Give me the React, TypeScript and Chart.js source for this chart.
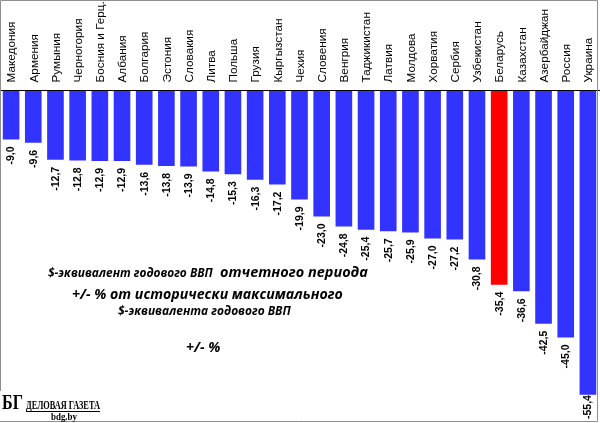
import React, { useEffect, useRef } from 'react';
import { Chart, registerables } from 'chart.js';
import type { Plugin } from 'chart.js';

Chart.register(...registerables);

const countries = [
  'Македония', 'Армения', 'Румыния', 'Черногория', 'Босния и Герц.', 'Албания',
  'Болгария', 'Эстония', 'Словакия', 'Литва', 'Польша', 'Грузия', 'Кыргызстан',
  'Чехия', 'Словения', 'Венгрия', 'Таджикистан', 'Латвия', 'Молдова', 'Хорватия',
  'Сербия', 'Узбекистан', 'Беларусь', 'Казахстан', 'Азербайджан', 'Россия', 'Украина',
];
const changePct = [
  -9.0, -9.6, -12.7, -12.8, -12.9, -12.9, -13.6, -13.8, -13.9, -14.8, -15.3, -16.3, -17.2,
  -19.9, -23.0, -24.8, -25.4, -25.7, -25.9, -27.0, -27.2, -30.8, -35.4, -36.6, -42.5, -45.0, -55.4,
];
const highlighted = 'Беларусь';

const titleLine1a = '$-эквивалент годового ВВП';
const titleLine1b = 'отчетного периода';
const titleLine2 = '+/- % от исторически максимального';
const titleLine3 = '$-эквивалента годового ВВП';
const titleLine4 = '+/- %';

const fmt = (v: number) => v.toFixed(1).replace('.', ',');

const TITLE_FONT = '"Open Sans", "Noto Sans", sans-serif';
const SANS = '"Liberation Sans", Arial, sans-serif';
const SERIF = '"Liberation Serif", "DejaVu Serif", serif';

// font size that makes `text` about `target` px long
const fitSize = (ctx: CanvasRenderingContext2D, text: string, target: number, style: string, family: string) => {
  ctx.font = `${style} 20px ${family}`;
  return (20 * target) / ctx.measureText(text).width;
};

const decorPlugin: Plugin<'bar'> = {
  id: 'decor',
  afterDatasetsDraw(chart) {
    const { ctx, chartArea } = chart;
    const meta = chart.getDatasetMeta(0);
    const xScale = chart.scales.x;
    const yScale = chart.scales.y;
    const zeroY = Math.round(yScale.getPixelForValue(0)) + 0.5;

    ctx.save();
    // axis line at zero
    ctx.strokeStyle = '#000';
    ctx.lineWidth = 1;
    ctx.beginPath();
    ctx.moveTo(0, zeroY);
    ctx.lineTo(chart.width, zeroY);
    ctx.stroke();

    ctx.fillStyle = '#000';
    ctx.textBaseline = 'middle';

    // category labels above the axis, reading upward
    const catSize = fitSize(ctx, 'Македония', 61, '', SANS);
    ctx.font = `${catSize}px ${SANS}`;
    ctx.textAlign = 'left';
    countries.forEach((c, i) => {
      const x = xScale.getPixelForTick(i);
      ctx.save();
      ctx.translate(x + 1, zeroY - 8);
      ctx.rotate(-Math.PI / 2);
      ctx.fillText(c, 0, 0);
      ctx.restore();
    });

    // value labels, rotated, just below each bar (kept inside the plot)
    const valSize = fitSize(ctx, '-12,7', 24, 'bold', SANS);
    ctx.font = `bold ${valSize}px ${SANS}`;
    ctx.textAlign = 'right';
    meta.data.forEach((el, i) => {
      const { x, y } = el.getProps(['x', 'y'], true) as { x: number; y: number };
      const text = fmt(changePct[i]);
      const w = ctx.measureText(text).width;
      const top = Math.min(y + 7, chartArea.bottom - 1 - w);
      ctx.save();
      ctx.translate(x + 0.5, top);
      ctx.rotate(-Math.PI / 2);
      ctx.fillText(text, 0, 0);
      ctx.restore();
    });
    ctx.restore();
  },
  afterDraw(chart) {
    const { ctx, width, height } = chart;
    ctx.save();

    // frame
    ctx.strokeStyle = '#8f8f8f';
    ctx.lineWidth = 1;
    ctx.beginPath();
    ctx.moveTo(0.5, 391);
    ctx.lineTo(0.5, 0.5);
    ctx.lineTo(width - 2.5, 0.5);
    ctx.lineTo(width - 2.5, height - 1.5);
    ctx.lineTo(0, height - 1.5);
    ctx.stroke();

    // title block
    ctx.fillStyle = '#000';
    ctx.textBaseline = 'middle';
    ctx.textAlign = 'left';
    const sA = fitSize(ctx, titleLine1a, 165, 'italic bold', TITLE_FONT);
    const sB = fitSize(ctx, titleLine1b, 148, 'italic bold', TITLE_FONT);
    ctx.font = `italic bold ${sA}px ${TITLE_FONT}`;
    ctx.fillText(titleLine1a, 48, 274);
    ctx.font = `italic bold ${sB}px ${TITLE_FONT}`;
    ctx.fillText(titleLine1b, 220, 273);

    const s2 = fitSize(ctx, titleLine2, 271, 'italic bold', TITLE_FONT);
    ctx.font = `italic bold ${s2}px ${TITLE_FONT}`;
    ctx.fillText(titleLine2, 72, 295);
    const s3 = fitSize(ctx, titleLine3, 173, 'italic bold', TITLE_FONT);
    ctx.font = `italic bold ${s3}px ${TITLE_FONT}`;
    ctx.fillText(titleLine3, 118, 312);
    ctx.font = `italic bold ${s2}px ${TITLE_FONT}`;
    ctx.fillText(titleLine4, 186, 348);

    // logo
    ctx.textBaseline = 'alphabetic';
    ctx.font = `bold 22px ${SERIF}`;
    ctx.fillText('БГ', 2, 409, 21);
    ctx.font = `bold 12px ${SERIF}`;
    ctx.fillText('ДЕЛОВАЯ ГАЗЕТА', 26, 409, 74);
    ctx.fillRect(26, 411, 74, 1);
    ctx.font = `bold 9.5px ${SERIF}`;
    ctx.fillText('bdg.by', 51, 419.5, 26);

    ctx.restore();
  },
};

const App: React.FC = () => {
  const canvasRef = useRef<HTMLCanvasElement>(null);
  const chartRef = useRef<Chart | null>(null);

  useEffect(() => {
    if (!canvasRef.current) return;
    const ctx = canvasRef.current.getContext('2d');
    if (!ctx) return;

    if (chartRef.current) chartRef.current.destroy();

    const colors = countries.map((c) => (c === highlighted ? '#ff0000' : '#3333ff'));

    chartRef.current = new Chart(ctx, {
      type: 'bar',
      data: {
        labels: countries,
        datasets: [
          {
            data: changePct,
            backgroundColor: colors,
            borderWidth: 0,
            categoryPercentage: 1,
            barPercentage: 0.75,
          },
        ],
      },
      options: {
        animation: false,
        responsive: true,
        maintainAspectRatio: false,
        layout: { padding: { left: 0, right: 1, top: 0, bottom: 3 } },
        plugins: { legend: { display: false }, tooltip: { enabled: false } },
        scales: {
          x: {
            position: 'top',
            grid: { display: false },
            border: { display: false },
            ticks: { display: false },
            afterFit: (scale) => {
              scale.height = 90;
            },
          },
          y: { display: false, min: -60, max: 0 },
        },
      },
      plugins: [decorPlugin],
    });

    return () => {
      if (chartRef.current) {
        chartRef.current.destroy();
        chartRef.current = null;
      }
    };
  }, []);

  return (
    <div style={{ position: 'absolute', left: 0, top: 0, width: 600, height: 423, background: '#fff' }}>
      <canvas ref={canvasRef}></canvas>
    </div>
  );
};

export default App;
